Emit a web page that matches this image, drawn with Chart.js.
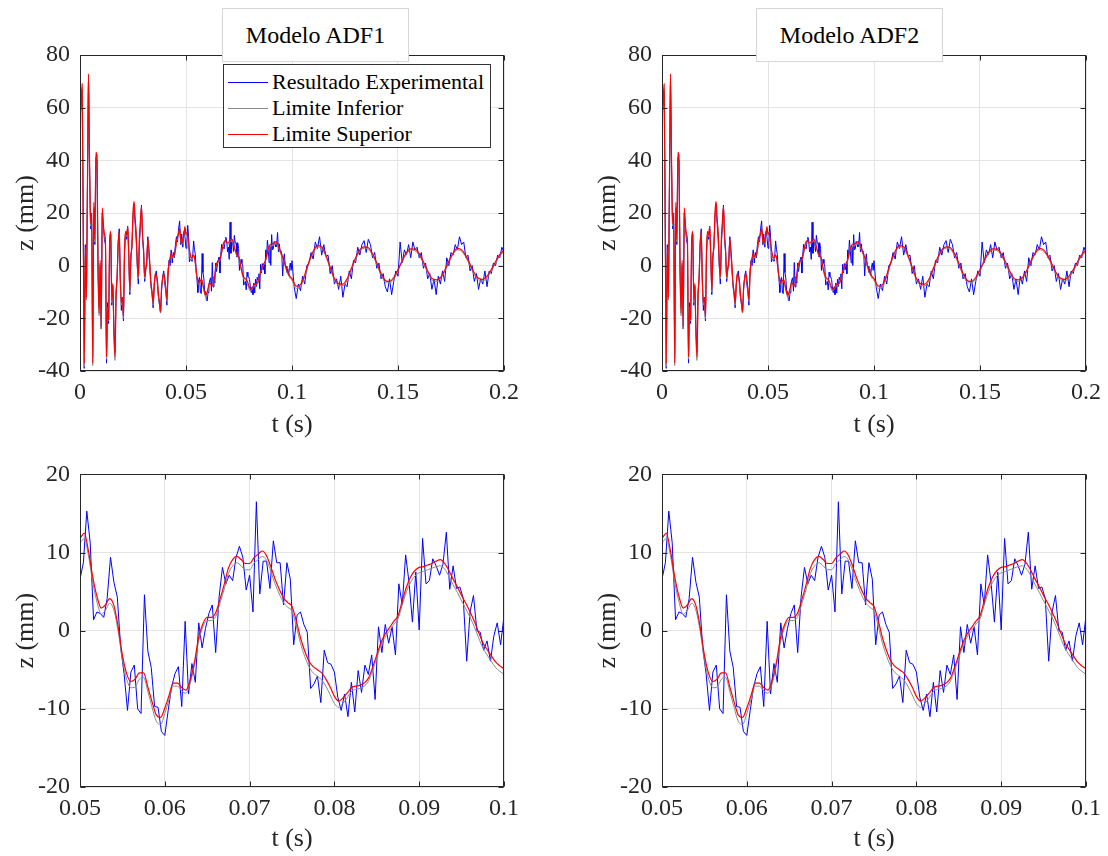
<!DOCTYPE html>
<html><head><meta charset="utf-8">
<script src="https://cdn.jsdelivr.net/npm/chart.js@4.4.1/dist/chart.umd.min.js"></script>
<style>
html,body{margin:0;padding:0;background:#fff;}
#wrap{position:relative;width:1108px;height:856px;overflow:hidden;font-family:"Liberation Serif","Times New Roman",serif;}
canvas{position:absolute;}
.tbox{position:absolute;top:8px;width:185px;height:52px;border:1px solid #d6d6d6;background:#fff;font-size:24px;color:#000;display:flex;align-items:center;justify-content:center;z-index:5;}
.legend{position:absolute;left:223px;top:64px;width:266px;height:82px;border:1px solid #333;background:#fff;font-size:22px;color:#000;z-index:5;}
.row{position:absolute;left:0;height:26px;display:flex;align-items:center;white-space:nowrap;}
.row i{display:block;width:40px;height:0;border-top:1px solid;margin-left:4px;margin-right:4px;}
</style>
</head><body>
<div id="wrap">
<canvas id="c1" width="582" height="450" style="left:0;top:0"></canvas>
<canvas id="c2" width="526" height="450" style="left:582px;top:0"></canvas>
<canvas id="c3" width="582" height="406" style="left:0;top:450px"></canvas>
<canvas id="c4" width="526" height="406" style="left:582px;top:450px"></canvas>
<div class="tbox" style="left:222px">Modelo ADF1</div>
<div class="tbox" style="left:756px">Modelo ADF2</div>
<div class="legend">
 <div class="row" style="top:4px"><i style="border-color:#0000ff"></i>Resultado Experimental</div>
 <div class="row" style="top:30px"><i style="border-color:#8a8a8a"></i>Limite Inferior</div>
 <div class="row" style="top:56px"><i style="border-color:#ff0000"></i>Limite Superior</div>
</div>
</div>
<script>
// ---- data (t in s, z in mm) ----
const seriesLabels = ['Resultado Experimental', 'Limite Inferior', 'Limite Superior'];
const modelTitles = ['Modelo ADF1', 'Modelo ADF2'];

// experimental: 0 - 0.0495 s, step 0.0005
const blueEarly = [58,60,66,18,-39,8,-13,28,70,38, 14,20,-35,22,8,41,40,-2,-16,0,
 -24,20,15,10,8,-37,-14,-22,8,12, -15,-8,-24,-33,-10,-5,9,14,-4,-17,
 -12,-21,5,12,10,15,3,-11,4,7, 19,22,16,10,0,-7,8,15,23,10,
 5,-6,-2,3,11,5,-2,-8,-11,-16, -7,-4,-2,-7,-12,-15,-18,-9,-4,-2,
 -7,-10,-15,-2,2,0,6,1,5,3, 8,11,9,14,17,8,12,7,13,11];
// experimental: 0.05 - 0.1 s, step 0.0004
const blueMid = [6.6,8.7,15.3,11.3,1.4,2.4,2.2,1.7,4.1,9.4,
 6.2,4.3,-2.2,-5.5,-10.2,-5.3,-4.4,-10.0,-10.6,4.6,
 -2.6,-4.7,-9.7,-9.8,-12.9,-13.4,-10.2,-7.2,-5.5,-4.6,
 -9.7,1.2,-8.1,-4.2,-6.6,1.0,-2.2,0.3,2.2,3.3,
 -2.8,4.3,8.1,6.0,7.1,6.4,9.4,10.8,9.4,5.2,
 7.1,2.4,16.5,4.7,8.9,8.9,5.4,11.5,8.7,8.7,
 3.3,8.7,6.6,-1.8,2.0,2.4,0.8,-0.2,-7.4,-6.8,
 -5.8,-9.2,-2.5,-4.1,-4.3,-5.3,-8.5,-10.2,-8.1,-11.0,
 -6.6,-10.4,-5.1,-7.9,-4.4,-5.6,-3.1,-8.8,0.5,-2.8,
 0.8,-1.6,0.5,-3.1,6.0,3.3,9.7,6.2,1.1,7.5,
 0.1,11.8,6.0,6.4,9.2,8.3,7.1,8.5,12.6,5.3,
 8.3,5.4,5.6,4.1,-3.9,2.4,4.5,0,-0.2,-2.5,
 -1.3,-3.9,-0.7,1.0,-1.8,1.9];
// experimental: 0.101 - 0.2 s, step 0.001
const blueLate = [-8,-12.5,-7,-9.5,-4,-7,0,1,5,2.5,
 9,6.5,11,4,8,3.5,4,-3,0,-7,
 -5,-9,-4,-12,-7,-8,-2,-5,2,1,
 7,4,8,9.5,5,10,8,3,5,-1,
 1,-5,-3,-8,-10,-5,-11,-6,-2,-4,
 9,1,6,4,8,3,9,6,7,3,
 5,-1,1,-5,-3,-9,-5,-11,-4,-7,
 -2,-6,3,0,5,4,8,6,11,8,
 9,3,4,-2,0,-6,-3,-9,-5,-7,
 -2,-8,-2,-3,1,0,4,3,7,5];

// Limite Superior: 0 - 0.0495 s step 0.0005 ; 0.05 - 0.1 step 0.0005 ; 0.102 - 0.2 step 0.002
const redEarly = [58,62,69,20,-37,7,-12,30,72.8,40, 16,20,-37,24,10,43,42,0,-18,2,
 -23,22,16,12,9.7,-34.6,-15.6,-20.6,10,13, -13,-6.7,-25,-34.6,-12,-4,8,13,-5,-14,
 -12,-19.4,6,13,11.6,14.8,5,-9.2,3,8, 20,24.4,18,12.4,2,-4.2,10,17,22.4,12,
 6,-4.2,-1,1,10,6,0,-6.7,-10,-14.3, -8,-2.9,-4,-5.5,-11,-14,-17.5,-8,-5,-2.9,
 -5,-8.6,-13,-4,0.9,3,4.7,3.5,3.8,4.1, 6,9.1,11,12.3,14.2,10,8.5,10,11.6,14.8];
const redMid = [11.9,12.5,10.2,6.9,4.4,2.9,3.3,4.1,3.2,0.5,
 -3.1,-5.5,-6.5,-6.2,-5.4,-5.4,-7.2,-9.1,-10.8,-11.1,
 -9.9,-8.3,-6.7,-6.7,-7.3,-7.6,-6.3,-4.0,-0.8,0.9,
 1.7,1.7,2.3,4.0,5.9,8.0,9.1,9.5,9.1,8.6,
 8.6,9.3,9.8,10.2,9.6,8.2,6.6,5.3,4.2,3.6,
 3.1,1.3,-0.9,-2.6,-3.9,-4.6,-5.0,-5.4,-6.2,-7.2,
 -8.4,-9.0,-8.6,-8.0,-7.3,-7.1,-7.0,-6.7,-6.1,-4.7,
 -3.1,-1.5,-0.4,0.4,1.2,1.9,3.8,5.6,6.9,7.7,
 8.1,8.2,8.4,8.6,8.9,9.1,8.6,7.7,6.6,5.6,
 4.5,3.5,2.4,1.2,-0.2,-1.5,-2.4,-3.2,-4.0,-4.5,-4.9];
const redLate = [-7.8,-7.2,-3.5,1.5,5.5,7.6,7.2,4.0,-0.5,-4.8,
 -6.8,-7.0,-5.0,-1.0,3.0,6.0,7.1,6.8,4.5,1.0,
 -3.0,-5.6,-6.0,-4.5,-1.5,2.0,5.0,6.4,6.3,4.5,
 1.5,-2.0,-4.8,-5.4,-4.5,-1.8,1.8,4.8,6.6,6.0,
 3.8,0.5,-2.8,-4.8,-5.2,-4.0,-1.5,1.5,4.2,5.9];

// Limite Inferior
const grayEarly = [57,60,67,19,-38.5,6,-13,28,70,38, 15,19,-38,22,9,41,40,-1,-19,1,
 -24,20,15,11,9,-35.5,-16,-21,9,12, -14,-7.5,-26,-36,-13,-5,7,12,-6,-15,
 -13,-20,5,12,11,14,4.5,-10,2.5,7.5, 19,23.5,17.5,12,1.5,-5,9,16,21.5,11.5,
 5.5,-5,-1.5,0.5,9.5,5.5,-0.5,-7.2,-10.5,-15, -8.5,-3.4,-4.5,-6,-11.5,-14.6,-18,-8.6,-5.5,-3.4,
 -5.5,-9.2,-13.5,-4.5,0.4,2.5,4.2,3,3.3,3.6, 5.5,8.5,10.4,11.7,13.6,9.5,8,9.5,11,14];
const grayMid = [11.3,11.8,9.6,6.2,3.7,2.1,2.6,3.5,2.6,-0.1,
 -3.7,-6.2,-7.3,-7.2,-6.2,-6.0,-7.8,-9.8,-11.6,-12.0,
 -10.6,-8.8,-7.1,-7.1,-7.7,-8.0,-6.7,-4.4,-1.3,0.5,
 1.3,1.3,1.8,3.5,5.3,7.3,8.3,8.7,8.3,7.8,
 7.8,8.6,9.1,9.5,9.0,7.6,6.0,4.7,3.6,3.0,
 2.5,0.6,-1.6,-3.3,-4.6,-5.4,-5.8,-6.3,-7.1,-8.2,
 -9.3,-9.8,-9.3,-8.6,-7.8,-7.5,-7.4,-7.1,-6.5,-5.1,
 -3.5,-1.8,-0.8,0,0.8,1.5,3.3,5.0,6.2,7.0,
 7.4,7.6,7.8,8.0,8.2,8.3,7.9,7.0,5.9,4.9,
 3.8,2.8,1.7,0.5,-0.9,-2.2,-3.1,-3.9,-4.7,-5.2,-5.6];
const grayLate = [-8.6,-8.0,-4.2,0.9,4.9,7.0,6.6,3.4,-1.1,-5.4,
 -7.4,-7.6,-5.6,-1.5,2.5,5.5,6.6,6.2,3.9,0.4,
 -3.6,-6.2,-6.6,-5.1,-2.0,1.5,4.5,5.9,5.7,3.9,
 0.9,-2.6,-5.4,-6.0,-5.0,-2.3,1.3,4.3,6.0,5.4,
 3.2,-0.1,-3.4,-5.4,-5.8,-4.6,-2.0,1.0,3.7,5.3];

// axis ticks
const xTicksTop = [0, 0.05, 0.1, 0.15, 0.2];
const yTicksTop = [-40, -20, 0, 20, 40, 60, 80];
const xTicksBottom = [0.05, 0.06, 0.07, 0.08, 0.09, 0.1];
const yTicksBottom = [-20, -10, 0, 10, 20];

// ---- build point lists ----
function build(parts){
  const out=[];
  for(const [t0,dt,vals] of parts) vals.forEach((v,i)=>out.push({x:+(t0+dt*i).toFixed(5),y:v}));
  return out;
}
const blue = build([[0,0.0005,blueEarly],[0.05,0.0004,blueMid],[0.101,0.001,blueLate]]);
const red  = build([[0,0.0005,redEarly],[0.05,0.0005,redMid],[0.102,0.002,redLate]]);
const gray = build([[0,0.0005,grayEarly],[0.05,0.0005,grayMid],[0.102,0.002,grayLate]]);

const INK='#262626';
const boxPlugin={
  id:'boxTicks',
  afterDatasetsDraw(chart){
    const {ctx,chartArea:a,scales:{x,y}}=chart;
    const L=Math.round(a.left)+0.5,R=Math.round(a.right)-0.5,T=Math.round(a.top)+0.5,B=Math.round(a.bottom)-0.5;
    ctx.save();
    ctx.strokeStyle=INK;ctx.lineWidth=1;
    ctx.beginPath();
    const tl=5;
    x.ticks.forEach(t=>{const p=Math.round(x.getPixelForValue(t.value))+0.5;
      ctx.moveTo(p,B);ctx.lineTo(p,B-tl);ctx.moveTo(p,T);ctx.lineTo(p,T+tl);});
    y.ticks.forEach(t=>{const p=Math.round(y.getPixelForValue(t.value))+0.5;
      ctx.moveTo(L,p);ctx.lineTo(L+tl,p);ctx.moveTo(R,p);ctx.lineTo(R-tl,p);});
    ctx.stroke();
    ctx.strokeRect(L,T,R-L,B-T);
    ctx.restore();
  }
};

function makeChart(id,o){
  const cv=document.getElementById(id);
  return new Chart(cv,{
    type:'line',
    data:{datasets:[
      {label:seriesLabels[2],data:red,borderColor:'#ff0000',borderWidth:1.2,pointRadius:0,cubicInterpolationMode:'monotone',order:0},
      {label:seriesLabels[1],data:gray,borderColor:'#8a8a8a',borderWidth:1,pointRadius:0,cubicInterpolationMode:'monotone',order:1},
      {label:seriesLabels[0],data:blue,borderColor:'#0000ff',borderWidth:1,pointRadius:0,tension:0,order:2}
    ]},
    options:{
      responsive:false,animation:false,devicePixelRatio:1,
      layout:{padding:{left:0,top:o.padTop,right:cv.width-o.right,bottom:0}},
      plugins:{legend:{display:false},tooltip:{enabled:false}},
      scales:{
        x:{type:'linear',min:o.xTicks[0],max:o.xTicks[o.xTicks.length-1],
          afterBuildTicks:s=>{s.ticks=o.xTicks.map(v=>({value:v}));},
          afterFit:s=>{s.height=o.xH;},
          ticks:{color:INK,padding:7,maxRotation:0,autoSkip:false,font:{family:'Liberation Serif',size:24},callback:v=>String(+(+v).toFixed(2))},
          grid:{color:'#e4e4e4',lineWidth:1,drawTicks:false},border:{display:false},
          title:{display:true,text:'t (s)',color:INK,font:{family:'Liberation Serif',size:26},padding:{top:0,bottom:o.xTitlePad}}},
        y:{type:'linear',min:o.yTicks[0],max:o.yTicks[o.yTicks.length-1],
          afterBuildTicks:s=>{s.ticks=o.yTicks.map(v=>({value:v}));},
          afterFit:s=>{s.width=80;},
          ticks:{color:INK,padding:10,autoSkip:false,font:{family:'Liberation Serif',size:24},callback:v=>String(v)},
          grid:{color:'#e4e4e4',lineWidth:1,drawTicks:false},border:{display:false},
          title:{display:true,text:'z (mm)',color:INK,font:{family:'Liberation Serif',size:26},padding:{top:11,bottom:0}}}
      }
    },
    plugins:[boxPlugin]
  });
}
makeChart('c1',{padTop:55,right:504,xH:79,xTitlePad:9,xTicks:xTicksTop,yTicks:yTicksTop});
makeChart('c2',{padTop:55,right:505,xH:79,xTitlePad:9,xTicks:xTicksTop,yTicks:yTicksTop});
makeChart('c3',{padTop:21,right:504,xH:69,xTitlePad:1,xTicks:xTicksBottom,yTicks:yTicksBottom});
makeChart('c4',{padTop:21,right:505,xH:69,xTitlePad:1,xTicks:xTicksBottom,yTicks:yTicksBottom});
</script>
</body></html>
